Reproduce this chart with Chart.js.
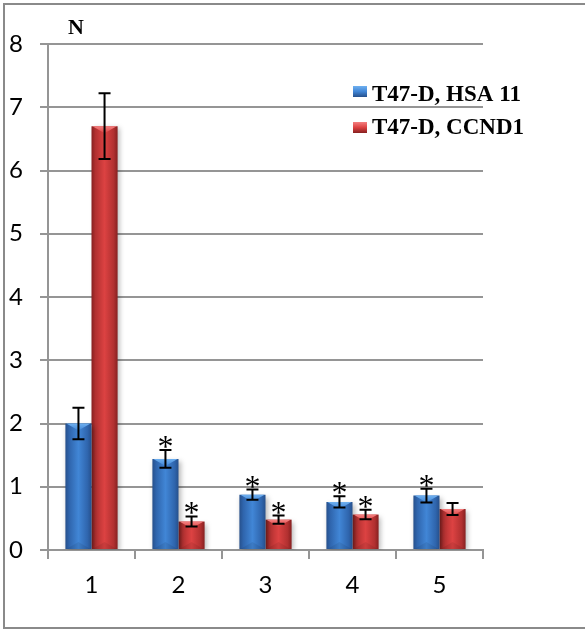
<!DOCTYPE html>
<html>
<head>
<meta charset="utf-8">
<script src="https://cdn.jsdelivr.net/npm/chart.js@4"></script>
<style>
  html, body { margin: 0; padding: 0; background: #ffffff; }
  canvas { display: block; }
</style>
</head>
<body>
<canvas id="chart" width="585" height="630"></canvas>
<script>
// Groups along the x axis
const categories = ['1', '2', '3', '4', '5'];

// T47-D, HSA 11: means and error half-widths
const hsaValues = [2.0, 1.44, 0.875, 0.76, 0.86];
const hsaErrors = [0.25, 0.14, 0.08, 0.09, 0.11];
const hsaMarked = [false, true, true, true, true];

// T47-D, CCND1: means and error half-widths
const ccndValues = [6.7, 0.45, 0.48, 0.56, 0.65];
const ccndErrors = [0.52, 0.08, 0.065, 0.075, 0.095];
const ccndMarked = [false, true, true, true, false];

// Y axis tick values
const yTicks = [0, 1, 2, 3, 4, 5, 6, 7, 8];

const seriesNames = ['T47-D, HSA 11', 'T47-D, CCND1'];
const errors = [hsaErrors, ccndErrors];
const marked = [hsaMarked, ccndMarked];

const palettes = [
  { edge: '#26508c', mid: '#4186d6', top: '#6fb0f0', bottom: '#2f65ad' },
  { edge: '#862020', mid: '#dc4242', top: '#f48080', bottom: '#b13030' }
];

const CAT_PCT = 0.6;
const GRID = '#959595';
const TICK_FONT = { family: 'Lato, "Open Sans", sans-serif', size: 24 };

function barFill(ctx) {
  const chart = ctx.chart;
  const pal = palettes[ctx.datasetIndex];
  const xs = chart.scales && chart.scales.x;
  if (!chart.chartArea || !xs) return pal.mid;
  const cx = xs.getPixelForValue(ctx.dataIndex);
  const w = xs.width / categories.length * CAT_PCT / 2;
  const left = ctx.datasetIndex === 0 ? cx - w : cx;
  const g = chart.ctx.createLinearGradient(left, 0, left + w, 0);
  g.addColorStop(0, pal.edge);
  g.addColorStop(0.15, pal.bottom);
  g.addColorStop(0.5, pal.mid);
  g.addColorStop(0.85, pal.bottom);
  g.addColorStop(1, pal.edge);
  return g;
}

// Outer frame, axis caption and legend
const framePlugin = {
  id: 'frame',
  beforeDraw(chart) {
    const c = chart.ctx;
    c.save();
    c.fillStyle = '#ffffff';
    c.fillRect(0, 0, chart.width, chart.height);
    c.strokeStyle = '#8a8a8a';
    c.lineWidth = 2;
    c.strokeRect(4, 4, chart.width + 10, chart.height - 6);
    c.restore();
  },
  afterDraw(chart) {
    const c = chart.ctx;
    c.save();
    c.fillStyle = '#000000';
    c.font = 'bold 22px "Liberation Serif", "Times New Roman", serif';
    c.textBaseline = 'middle';
    c.textAlign = 'left';
    c.fillText('N', 68, 28);

    const squares = [91, 127];
    const baselines = [101, 134];
    seriesNames.forEach((name, i) => {
      const pal = palettes[i];
      const y = squares[i];
      const g = c.createLinearGradient(0, y - 5, 0, y + 6);
      g.addColorStop(0, pal.top);
      g.addColorStop(0.5, pal.mid);
      g.addColorStop(1, pal.edge);
      c.fillStyle = g;
      c.fillRect(353, y - 5, 14, 11);
      c.fillStyle = '#000000';
      c.font = 'bold 23px "Liberation Serif", "Times New Roman", serif';
      c.textBaseline = 'alphabetic';
      c.fillText(name, 372, baselines[i]);
    });
    c.restore();
  }
};

// Soft shadow behind the bars
const shadowPlugin = {
  id: 'barShadow',
  beforeDatasetsDraw(chart) {
    const c = chart.ctx;
    c.save();
    c.shadowColor = 'rgba(0,0,0,0.28)';
    c.shadowBlur = 5;
    c.shadowOffsetX = 2;
    c.shadowOffsetY = 2;
  },
  afterDatasetsDraw(chart) {
    chart.ctx.restore();
  }
};

// Bevel highlights, error bars and significance marks
const detailPlugin = {
  id: 'details',
  afterDatasetsDraw(chart) {
    const c = chart.ctx;
    const ys = chart.scales.y;
    c.save();
    chart.data.datasets.forEach((ds, di) => {
      const meta = chart.getDatasetMeta(di);
      const pal = palettes[di];
      meta.data.forEach((el, i) => {
        const p = el.getProps(['x', 'y', 'width', 'base'], true);
        const left = p.x - p.width / 2;
        const right = p.x + p.width / 2;
        const h = Math.min(7, (p.base - p.y) / 2);
        // top bevel
        const gt = c.createLinearGradient(0, p.y, 0, p.y + h);
        gt.addColorStop(0, pal.top);
        gt.addColorStop(1, pal.mid);
        c.fillStyle = gt;
        c.beginPath();
        c.moveTo(left + 1, p.y);
        c.lineTo(right - 1, p.y);
        c.lineTo(p.x, p.y + h);
        c.closePath();
        c.fill();
        // bottom bevel
        c.fillStyle = 'rgba(0,0,0,0.08)';
        c.beginPath();
        c.moveTo(left + 1, p.base);
        c.lineTo(right - 1, p.base);
        c.lineTo(p.x, p.base - h);
        c.closePath();
        c.fill();

        // error bar
        const v = ds.data[i];
        const e = errors[di][i];
        const yt = ys.getPixelForValue(v + e);
        const yb = ys.getPixelForValue(v - e);
        c.strokeStyle = '#000000';
        c.lineWidth = 2;
        c.beginPath();
        c.moveTo(p.x, yt);
        c.lineTo(p.x, yb);
        c.moveTo(p.x - 6, yt);
        c.lineTo(p.x + 6, yt);
        c.moveTo(p.x - 6, yb);
        c.lineTo(p.x + 6, yb);
        c.stroke();

        // significance asterisk
        if (marked[di][i]) {
          c.font = '32px "Liberation Serif", "Times New Roman", serif';
          c.textAlign = 'center';
          c.textBaseline = 'alphabetic';
          const m = c.measureText('*');
          const mid = (m.actualBoundingBoxAscent - m.actualBoundingBoxDescent) / 2;
          c.fillStyle = '#000000';
          c.fillText('*', p.x, yt - 8 + mid);
        }
      });
    });
    c.restore();
  }
};

new Chart(document.getElementById('chart'), {
  type: 'bar',
  data: {
    labels: categories,
    datasets: [
      { label: seriesNames[0], data: hsaValues, backgroundColor: barFill,
        categoryPercentage: CAT_PCT, barPercentage: 1.0 },
      { label: seriesNames[1], data: ccndValues, backgroundColor: barFill,
        categoryPercentage: CAT_PCT, barPercentage: 1.0 }
    ]
  },
  options: {
    responsive: false,
    animation: false,
    layout: { padding: { top: 44, right: 102, bottom: 0, left: 0 } },
    plugins: { legend: { display: false }, tooltip: { enabled: false } },
    scales: {
      x: {
        afterFit(s) { s.height = 80; },
        grid: { offset: true, drawOnChartArea: false, drawTicks: true,
                tickLength: 9, color: GRID, lineWidth: 2 },
        border: { color: GRID, width: 2 },
        ticks: { color: '#000000', padding: 12, font: TICK_FONT }
      },
      y: {
        min: 0, max: 8,
        afterFit(s) { s.width = 48; },
        afterBuildTicks(s) { s.ticks = yTicks.map(v => ({ value: v })); },
        grid: { color: GRID, lineWidth: 2, tickLength: 8 },
        border: { color: GRID, width: 2 },
        ticks: { color: '#000000', padding: 17, font: TICK_FONT }
      }
    }
  },
  plugins: [framePlugin, shadowPlugin, detailPlugin]
});
</script>
</body>
</html>
